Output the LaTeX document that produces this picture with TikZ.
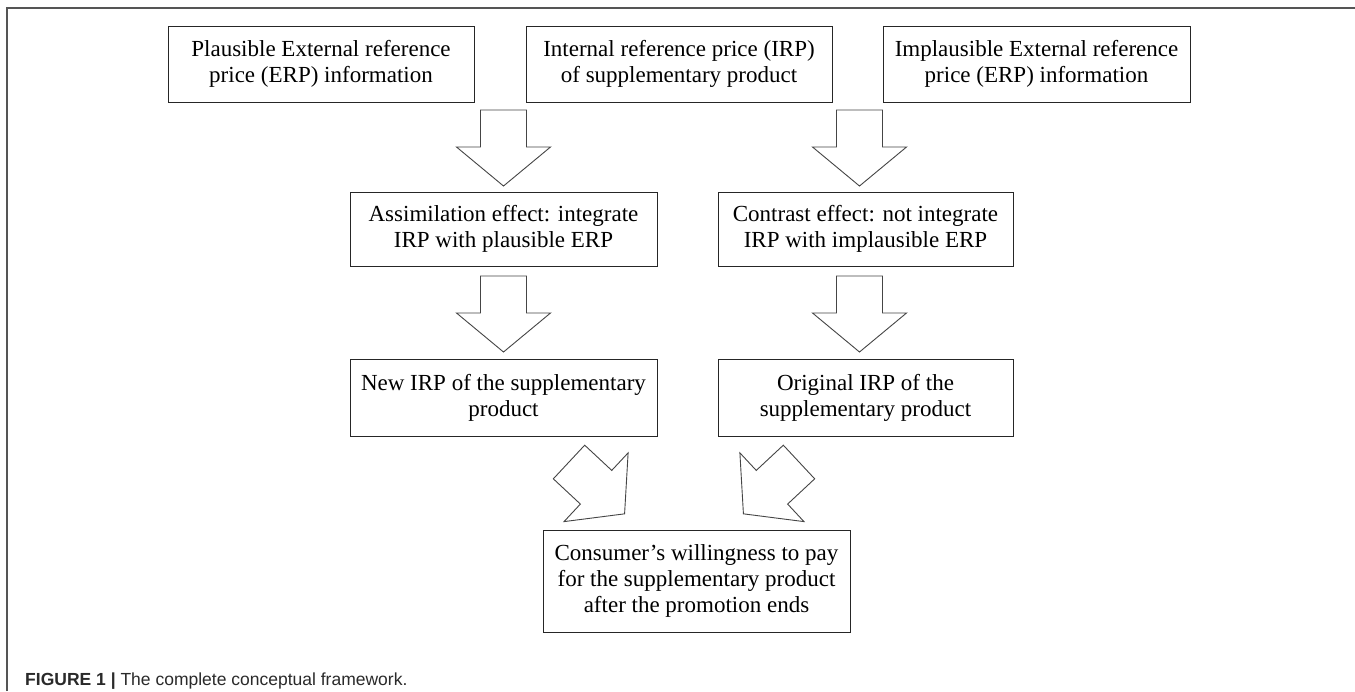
\documentclass[tikz,border=0pt]{standalone}
\usepackage{fontspec}
\setmainfont{Liberation Serif}
\newfontfamily\capfont{Liberation Sans}
\definecolor{boxcol}{HTML}{262626}
\definecolor{arrcol}{HTML}{454545}
\definecolor{framecol}{HTML}{555555}
\definecolor{capcol}{HTML}{2A2A2A}
\tikzset{
  box/.style={draw=boxcol, line width=1pt, inner sep=0pt, align=center,
              font=\fontsize{23}{26}\selectfont, text=black},
  arrowline/.style={draw=arrcol, line width=0.9pt, fill=white, line join=miter},
  blockarrow/.pic={\path[arrowline] (-23,0) -- (23,0) -- (23,37) -- (47,37) -- (0,76) -- (-47,37) -- (-23,37) -- cycle;}
}
\begin{document}
\begin{tikzpicture}[x=1pt,y=-1pt]
\useasboundingbox (0,0) rectangle (1355,691);
\fill[white] (0,0) rectangle (1355,691);
% frame
\draw[framecol, line width=1.6pt] (7,691) -- (7,8) -- (1355,8);

% boxes
\node[box, minimum width=306pt, minimum height=76pt] (b1) at (321,64)
  {Plausible External reference\\price (ERP) information};
\node[box, minimum width=306pt, minimum height=76pt] (b2) at (679,64)
  {Internal reference price (IRP)\\of supplementary product};
\node[box, minimum width=307pt, minimum height=76pt] (b3) at (1036.5,64)
  {Implausible External reference\\price (ERP) information};
\node[box, minimum width=307pt, minimum height=74pt] (b4) at (503.5,229)
  {Assimilation effect: integrate\\IRP with plausible ERP};
\node[box, minimum width=295pt, minimum height=74pt] (b5) at (865.5,229)
  {Contrast effect: not integrate\\IRP with implausible ERP};
\node[box, minimum width=307pt, minimum height=77pt] (b6) at (503.5,397.5)
  {New IRP of the supplementary\\product};
\node[box, minimum width=295pt, minimum height=77pt] (b7) at (865.5,397.5)
  {Original IRP of the\\supplementary product};
\node[box, minimum width=307pt, minimum height=102pt] (b8) at (696.5,581)
  {Consumer’s willingness to pay\\for the supplementary product\\after the promotion ends};

% block arrows
\coordinate (a1) at (503.5,110);
\coordinate (a2) at (859.5,110);
\coordinate (a3) at (503.5,276);
\coordinate (a4) at (859.5,276);
\coordinate (a5) at (569,462);
\coordinate (a6) at (799,462);
\pic at (a1) {blockarrow};
\pic at (a2) {blockarrow};
\pic at (a3) {blockarrow};
\pic at (a4) {blockarrow};
\pic[rotate=47] at (a5) {blockarrow};
\pic[rotate=-47] at (a6) {blockarrow};

% caption
\node[anchor=base west, inner sep=0pt, text=capcol,
      font=\capfont\fontsize{17.5}{20}\selectfont] (cap) at (25,685)
  {\textbf{FIGURE 1 |} The complete conceptual framework.};
\end{tikzpicture}
\end{document}
